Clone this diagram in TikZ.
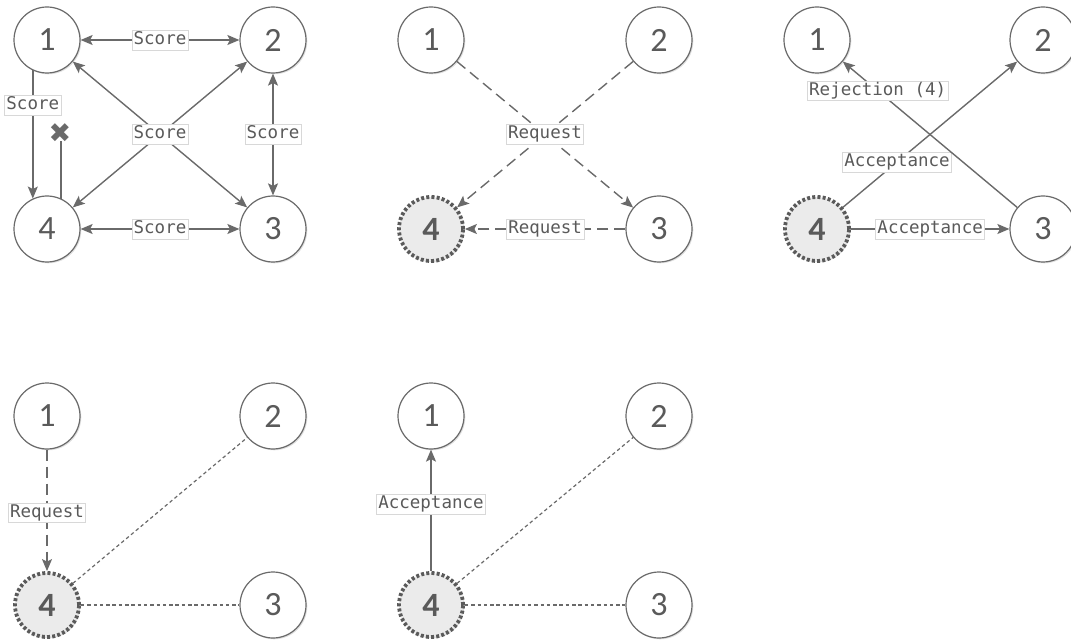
\documentclass[tikz,border=0pt]{standalone}
\usepackage{fontspec}
\setmainfont{Carlito}
\newfontfamily\labelfont{DejaVu Sans Mono}
\newfontfamily\symfont{DejaVu Sans}
\usetikzlibrary{arrows.meta,shadows}

\definecolor{edgegray}{HTML}{6A6A6A}
\definecolor{textgray}{HTML}{5A5A5A}
\definecolor{boxgray}{HTML}{D8D8D8}
\definecolor{hlfill}{HTML}{EBEBEB}

\tikzset{
  every picture/.style={x=1pt,y=-1pt},
  agent/.style={circle, minimum size=66pt, inner sep=0pt, draw=edgegray,
    line width=1.2pt, fill=white, text=textgray, font=\fontsize{34}{34}\selectfont,
    drop shadow={shadow xshift=1.3pt, shadow yshift=-1.3pt, fill=black, opacity=0.12}},
  chosen/.style={agent, fill=hlfill, draw=edgegray!85!black, line width=3.8pt,
    dash pattern=on 3pt off 2.2pt, minimum size=64pt,
    font=\fontsize{34}{34}\selectfont\bfseries},
  msg/.style={fill=white, draw=boxgray, line width=0.5pt, text=textgray,
    font=\labelfont\fontsize{17.5}{17.5}\selectfont, inner sep=1.8pt,
    text height=12.5pt, text depth=3.5pt, solid},
  link/.style={draw=edgegray, line width=1.4pt},
  tip/.style={-{Stealth[length=12pt,width=10pt,inset=2.5pt]}},
  bitip/.style={{Stealth[length=12pt,width=10pt,inset=2.5pt]}-{Stealth[length=12pt,width=10pt,inset=2.5pt]}},
  req/.style={link, dash pattern=on 11pt off 6pt},
  idle/.style={draw=edgegray, line width=1.2pt, dash pattern=on 3.5pt off 2.8pt},
}

\begin{document}
\begin{tikzpicture}
\useasboundingbox (0,0) rectangle (1071,644);

% ---- first round: every pair exchanges scores
\node[agent] (a1) at (47,40) {1};
\node[agent] (a2) at (273,40) {2};
\node[agent] (a3) at (273,229) {3};
\node[agent] (a4) at (47,229) {4};
\node[text=edgegray, font=\symfont\fontsize{27}{27}\selectfont, inner sep=0pt] (ax) at (60,133) {✖};

\draw[link,bitip] (a1) -- node[msg] {Score} (a2);
\draw[link,bitip] (a2) -- node[msg] {Score} (a3);
\draw[link,bitip] (a4) -- node[msg] {Score} (a3);
\draw[link,tip] (a1.-115) -- node[msg,pos=0.27] {Score} (a4.115);
\draw[link] (a4.65) -- ([yshift=2pt]a4.65 |- ax.south);
\draw[link,bitip] (a2) -- (a4);
\draw[link,bitip] (a1) -- node[msg] {Score} (a3);

% ---- second round: requests sent to agent 4
\node[agent] (b1) at (431,40) {1};
\node[agent] (b2) at (659,40) {2};
\node[agent] (b3) at (659,229) {3};
\node[chosen] (b4) at (431,229) {4};

\draw[req,tip] (b2) -- (b4);
\draw[req,tip] (b1) -- node[msg] {Request} (b3);
\draw[req,tip] (b3) -- node[msg] {Request} (b4);

% ---- third round: answers of agent 4
\node[agent] (c1) at (817,40) {1};
\node[agent] (c2) at (1043,40) {2};
\node[agent] (c3) at (1043,229) {3};
\node[chosen] (c4) at (817,229) {4};

\draw[link,tip] (c4) -- node[msg,pos=0.31] {Acceptance} (c2);
\draw[link,tip] (c3) -- node[msg,pos=0.80] {Rejection (4)} (c1);
\draw[link,tip] (c4) -- node[msg] {Acceptance} (c3);

% ---- fourth round: agent 1 asks agent 4
\node[agent] (d1) at (47,416) {1};
\node[agent] (d2) at (273,416) {2};
\node[agent] (d3) at (273,605) {3};
\node[chosen] (d4) at (47,605) {4};

\draw[idle] (d4) -- (d2);
\draw[idle] (d4) -- (d3);
\draw[req,tip] (d1) -- node[msg,pos=0.52] {Request} (d4);

% ---- fifth round: agent 4 accepts agent 1
\node[agent] (e1) at (431,416) {1};
\node[agent] (e2) at (659,416) {2};
\node[agent] (e3) at (659,605) {3};
\node[chosen] (e4) at (431,605) {4};

\draw[idle] (e4) -- (e2);
\draw[idle] (e4) -- (e3);
\draw[link,tip] (e4) -- node[msg,pos=0.55] {Acceptance} (e1);
\end{tikzpicture}
\end{document}
